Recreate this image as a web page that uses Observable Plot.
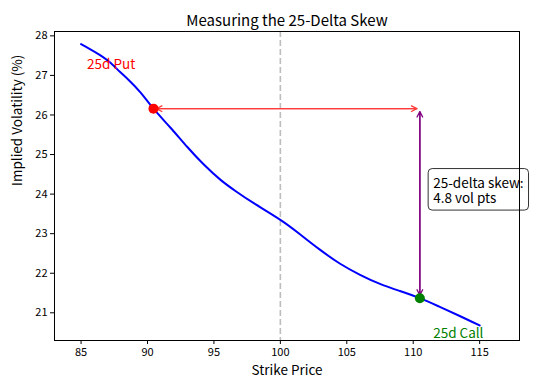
<!DOCTYPE html>
<html>
<head>
<meta charset="utf-8">
<script src="https://cdn.jsdelivr.net/npm/d3@7"></script>
<script src="https://cdn.jsdelivr.net/npm/@observablehq/plot@0.6"></script>
<style>
  html, body { margin: 0; padding: 0; background: #fff; }
  #chart svg { font-family: "Noto Sans CJK JP", "Noto Sans", sans-serif; overflow: visible; }
</style>
</head>
<body>
<div id="chart"></div>
<script>
// ---- data ----
const strikes = [85, 85.7, 86.4, 87.1, 87.9, 88.6, 89.5, 90.45, 91.7, 93, 94.2, 95.5, 96.7, 98, 100, 101.5, 103, 104.5, 106, 107.5, 109, 110.5, 112, 113.5, 115];
const vols    = [27.79, 27.66, 27.52, 27.35, 27.10, 26.88, 26.56, 26.16, 25.69, 25.19, 24.76, 24.36, 24.06, 23.77, 23.35, 22.98, 22.59, 22.24, 21.96, 21.73, 21.55, 21.37, 21.15, 20.92, 20.68];
const putStrike = 90.45, putVol = 26.16;
const callStrike = 110.5, callVol = 21.37;
const atmStrike = 100;
const xTicks = [85, 90, 95, 100, 105, 110, 115];
const yTicks = [21, 22, 23, 24, 25, 26, 27, 28];
const titleText = "Measuring the 25-Delta Skew";
const xLabel = "Strike Price";
const yLabel = "Implied Volatility (%)";
const putLabel = "25d Put";
const callLabel = "25d Call";
const skew = putVol - callVol;
const skewText = `25-delta skew:\n${skew.toFixed(1)} vol pts`;

const curve = strikes.map((s, i) => ({strike: s, vol: vols[i]}));

const chart = Plot.plot({
  width: 536,
  height: 391,
  marginLeft: 54,
  marginRight: 17,
  marginTop: 31,
  marginBottom: 51,
  style: {fontFamily: '"Noto Sans CJK JP", "Noto Sans", sans-serif', background: "#fff", overflow: "visible"},
  x: {domain: [83, 118], ticks: xTicks, label: null},
  y: {domain: [20.3, 28.11], ticks: yTicks, label: null},
  marks: [
    Plot.ruleX([atmStrike], {stroke: "#bdbdbd", strokeWidth: 1.6, strokeDasharray: "6,3"}),
    Plot.line(curve, {x: "strike", y: "vol", stroke: "blue", strokeWidth: 2, curve: "natural"}),
    // horizontal double arrow (put level)
    Plot.arrow([{a: putStrike, b: callStrike}, {a: callStrike, b: putStrike}], {
      x1: "a", x2: "b", y1: () => putVol, y2: () => putVol,
      stroke: "#ff3b3b", strokeWidth: 1.3, headLength: 7, headAngle: 55, insetStart: 3, insetEnd: 3
    }),
    // vertical double arrow at call strike
    Plot.arrow([{a: putVol, b: callVol}, {a: callVol, b: putVol}], {
      y1: "a", y2: "b", x1: () => callStrike, x2: () => callStrike,
      stroke: "purple", strokeWidth: 1.3, headLength: 7, headAngle: 55, insetStart: 3, insetEnd: 3
    }),
    Plot.dot([{strike: putStrike, vol: putVol}], {x: "strike", y: "vol", r: 5, fill: "red"}),
    Plot.dot([{strike: callStrike, vol: callVol}], {x: "strike", y: "vol", r: 5, fill: "green"}),
    Plot.text([putLabel], {x: () => putStrike - 5, y: () => putVol + 1, text: d => d, textAnchor: "start", lineAnchor: "bottom", fill: "red", fontSize: 13.5}),
    Plot.text([callLabel], {x: () => callStrike + 1, y: () => callVol - 1, text: d => d, textAnchor: "start", lineAnchor: "bottom", fill: "green", fontSize: 13.5}),
    Plot.text([skewText], {x: () => callStrike + 1, y: () => (putVol + callVol) / 2 + 0.33, text: d => d, textAnchor: "start", lineAnchor: "middle", fill: "black", fontSize: 13.5, lineHeight: 1.15}),
    Plot.frame({stroke: "black", strokeWidth: 1}),
    Plot.axisX({ticks: xTicks, tickSize: 4, tickPadding: 4, fontSize: 11, label: null}),
    Plot.axisY({ticks: yTicks, tickSize: 4, tickPadding: 3, fontSize: 11, label: null}),
    Plot.text([xLabel], {frameAnchor: "bottom", dy: 34, text: d => d, fontSize: 13.5, fill: "black"}),
    Plot.text([yLabel], {frameAnchor: "left", dx: -37, rotate: -90, text: d => d, fontSize: 13.5, fill: "black"}),
    Plot.text([titleText], {frameAnchor: "top", dy: -16, text: d => d, fontSize: 15, fill: "black"})
  ]
});

document.getElementById("chart").appendChild(chart);

// add a rounded box behind the skew annotation
d3.select(chart).selectAll("text").each(function() {
  if (this.textContent.startsWith("25-delta skew:")) {
    const bb = this.getBBox();
    const padX = 5, padY = 3;
    d3.select(this.parentNode).insert("rect", () => this)
      .attr("transform", this.getAttribute("transform"))
      .attr("x", bb.x - padX).attr("y", bb.y - padY)
      .attr("width", bb.width + 2 * padX).attr("height", bb.height + 2 * padY)
      .attr("rx", 4).attr("ry", 4)
      .attr("fill", "white").attr("stroke", "#333").attr("stroke-width", 1);
  }
});
</script>
</body>
</html>
